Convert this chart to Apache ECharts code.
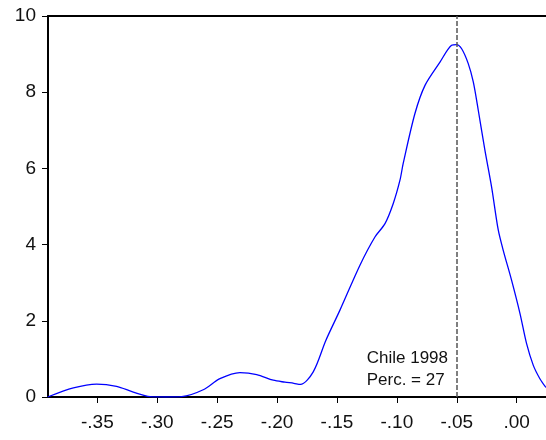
<!DOCTYPE html>
<html>
<head>
<meta charset="utf-8">
<script src="https://cdn.jsdelivr.net/npm/echarts@6/dist/echarts.min.js"></script>
<style>
  html, body { margin: 0; padding: 0; background: #fff; }
  #chart { width: 546px; height: 440px; }
</style>
</head>
<body>
<div id="chart"></div>
<script>
// density estimate
const xValues = [-0.3915, -0.370, -0.3506, -0.334, -0.320, -0.306, -0.293, -0.2796, -0.2616, -0.2477,
  -0.231, -0.217, -0.2032, -0.1934, -0.186, -0.1805, -0.1698, -0.1592, -0.1475, -0.1308,
  -0.1183, -0.1099, -0.103, -0.0974, -0.0947, -0.0849, -0.0765, -0.064, -0.0543, -0.0501,
  -0.0459, -0.0404, -0.0362, -0.032, -0.0265, -0.0209, -0.0154, -0.0112, -0.0042, 0.0028,
  0.0083, 0.0139, 0.0194, 0.0244]
const yValues = [0, 0.24, 0.34, 0.28, 0.13, 0.01, 0, 0.01, 0.19, 0.48,
  0.64, 0.59, 0.44, 0.39, 0.36, 0.33, 0.66, 1.49, 2.28, 3.46,
  4.20, 4.55, 5.08, 5.69, 6.13, 7.44, 8.18, 8.79, 9.23, 9.25,
  9.14, 8.75, 8.27, 7.52, 6.48, 5.51, 4.39, 3.85, 3.06, 2.19,
  1.40, 0.83, 0.48, 0.25]

const xTicks = [-0.35, -0.30, -0.25, -0.20, -0.15, -0.10, -0.05, 0.00]
const markX = -0.049
const noteLines = ['Chile 1998', 'Perc. = 27']

const font = "'Liberation Sans', Arial, sans-serif"
const fmt = v => v.toFixed(2).replace('0.', '.')

const chart = echarts.init(document.getElementById('chart'))

chart.setOption({
  animation: false,
  textStyle: { fontFamily: font },
  grid: { left: 48, right: 0, top: 16, bottom: 43 },
  xAxis: [
    {
      type: 'value',
      min: -0.3912,
      max: 0.0245,
      axisLine: { onZero: false, lineStyle: { color: '#000', width: 2 } },
      axisTick: { customValues: xTicks, length: 6, lineStyle: { color: '#000', width: 1 } },
      axisLabel: {
        customValues: xTicks,
        formatter: fmt,
        color: '#111',
        fontSize: 19,
        margin: 16,
        fontFamily: font
      },
      splitLine: { show: false }
    },
    {
      type: 'value',
      position: 'top',
      min: -0.3912,
      max: 0.0245,
      axisLine: { show: true, onZero: false, lineStyle: { color: '#000', width: 2 } },
      axisTick: { show: false },
      axisLabel: { show: false },
      splitLine: { show: false }
    }
  ],
  yAxis: {
    type: 'value',
    min: 0,
    max: 10,
    interval: 2,
    axisLine: { show: true, onZero: false, lineStyle: { color: '#000', width: 2 } },
    axisTick: { show: true, length: 6, lineStyle: { color: '#000', width: 1 } },
    axisLabel: { color: '#111', fontSize: 19, margin: 12, fontFamily: font },
    splitLine: { show: false }
  },
  graphic: [
    {
      type: 'text',
      right: 546 - 448,
      top: 347,
      style: {
        text: noteLines.join('\n'),
        font: '17px ' + font,
        fill: '#111',
        align: 'right',
        lineHeight: 22
      }
    }
  ],
  series: [
    {
      type: 'line',
      data: xValues.map((x, i) => [x, yValues[i]]),
      smooth: 0.3,
      showSymbol: false,
      lineStyle: { color: '#0000ff', width: 1.3 },
      markLine: {
        silent: true,
        symbol: 'none',
        label: { show: false },
        lineStyle: { color: '#555', type: [5, 2], width: 1.5 },
        data: [{ xAxis: markX }]
      }
    }
  ]
})
</script>
</body>
</html>
